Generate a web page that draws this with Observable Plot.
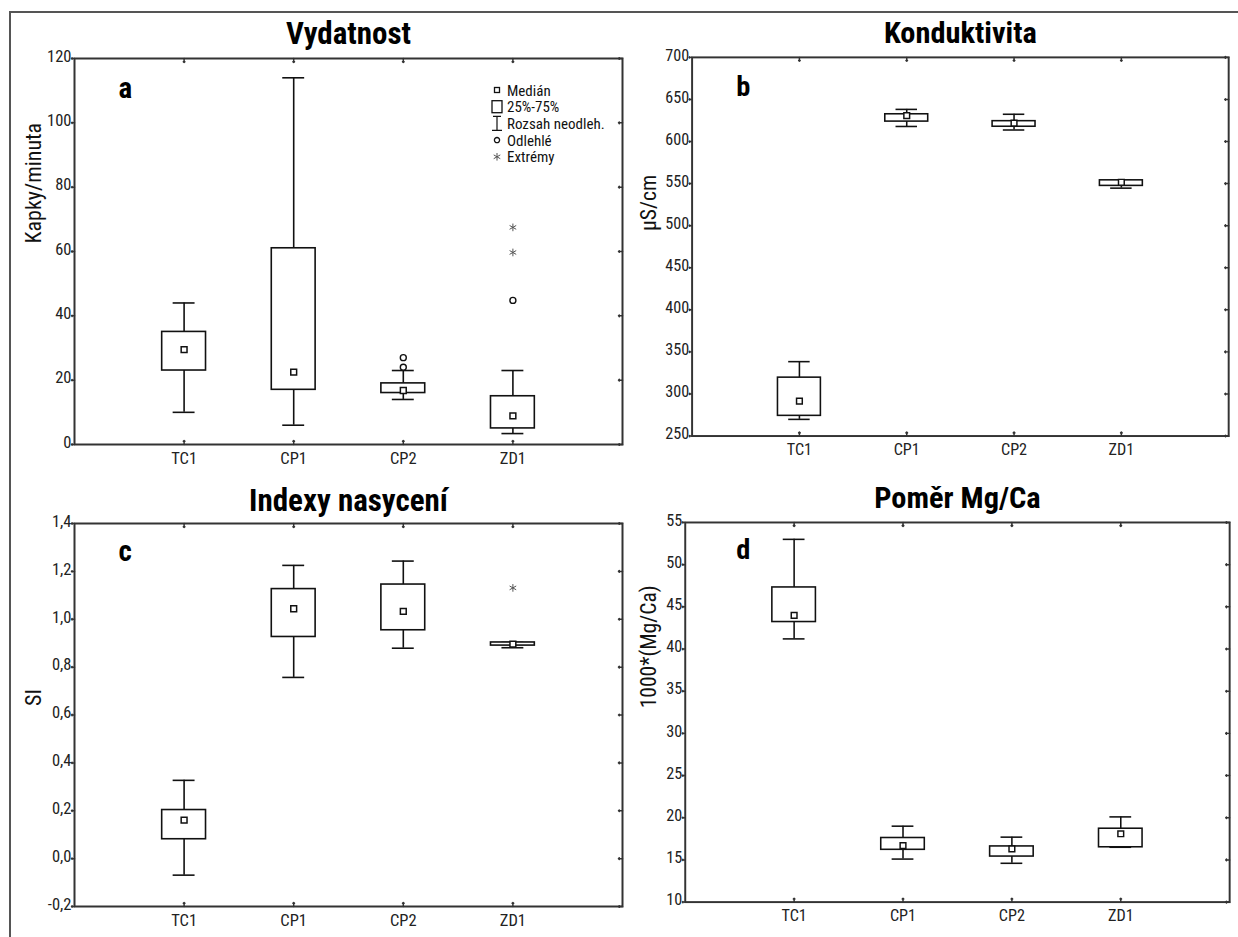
<!DOCTYPE html>
<html>
<head>
<meta charset="utf-8">
<script src="https://cdn.jsdelivr.net/npm/d3@7"></script>
<script src="https://cdn.jsdelivr.net/npm/@observablehq/plot@0.6"></script>
<style>
  html, body { margin: 0; padding: 0; background: #fff; }
  #root { position: relative; width: 1238px; height: 937px; overflow: hidden; background: #fff; }
  .outer { position: absolute; left: 9px; top: 11px; width: 1300px; height: 1000px;
           border-left: 2px solid #555; border-top: 2px solid #555; }
  .panel { position: absolute; }
  .panel svg { overflow: visible; }
  #legend { position: absolute; left: 488px; top: 80px; }
</style>
</head>
<body>
<div id="root">
  <div class="outer"></div>
  <div class="panel" id="pa" style="left:0px;top:0px"></div>
  <div class="panel" id="pb" style="left:620px;top:0px"></div>
  <div class="panel" id="pc" style="left:0px;top:470px"></div>
  <div class="panel" id="pd" style="left:620px;top:470px"></div>
  <div id="legend"></div>
</div>
<script>
const categories = ["TC1", "CP1", "CP2", "ZD1"];

// a) Vydatnost (Kapky/minuta)
const vydWhiskerLow  = [10, 6, 14, 3.4];
const vydQ1          = [23, 17, 16, 5];
const vydMedian      = [29.5, 22.5, 16.8, 8.9];
const vydQ3          = [35, 61, 19, 15];
const vydWhiskerHigh = [44, 114, 23, 23];
const vydOutlierCat  = ["CP2", "CP2", "ZD1"];
const vydOutlierVal  = [27, 24, 44.8];
const vydExtremeCat  = ["ZD1", "ZD1"];
const vydExtremeVal  = [67.5, 59.7];
const vydTicks = [0, 20, 40, 60, 80, 100, 120];

// b) Konduktivita (µS/cm)
const kondWhiskerLow  = [269.8, 617.9, 613.7, 544.6];
const kondQ1          = [274, 623.7, 617.6, 547.3];
const kondMedian      = [291.5, 630.7, 621.9, 551.6];
const kondQ3          = [319.4, 632.4, 624.2, 553.9];
const kondWhiskerHigh = [338.4, 638.2, 632.4, 554];
const kondTicks = [250, 300, 350, 400, 450, 500, 550, 600, 650, 700];

// c) Indexy nasycení (SI)
const siWhiskerLow  = [-0.069, 0.757, 0.879, 0.881];
const siQ1          = [0.081, 0.926, 0.954, 0.890];
const siMedian      = [0.161, 1.044, 1.033, 0.896];
const siQ3          = [0.203, 1.126, 1.145, 0.903];
const siWhiskerHigh = [0.327, 1.225, 1.243, 0.903];
const siExtremeCat  = ["ZD1"];
const siExtremeVal  = [1.131];
const siTicks = [-0.2, 0, 0.2, 0.4, 0.6, 0.8, 1.0, 1.2, 1.4];

// d) Poměr Mg/Ca (1000*(Mg/Ca))
const mgWhiskerLow  = [41.2, 15.1, 14.6, 16.5];
const mgQ1          = [43.2, 16.2, 15.4, 16.5];
const mgMedian      = [44.0, 16.7, 16.3, 18.1];
const mgQ3          = [47.3, 17.6, 16.6, 18.7];
const mgWhiskerHigh = [53.0, 19.0, 17.7, 20.1];
const mgTicks = [10, 15, 20, 25, 30, 35, 40, 45, 50, 55];

const legendLabels = ["Medián", "25%-75%", "Rozsah neodleh.", "Odlehlé", "Extrémy"];

const FONT = "'Liberation Sans Narrow','Arial Narrow','Roboto Condensed','DejaVu Sans Condensed','Liberation Sans',sans-serif";
const INK = "#111";
const FRAME = "#333";
const TICKFS = 16.5;

function panel(cfg) {
  const n = categories.length;
  const pos = c => categories.indexOf(c) + 1;
  const rows = categories.map((c, i) => ({
    c, x: i + 1, wl: cfg.wl[i], q1: cfg.q1[i], med: cfg.med[i], q3: cfg.q3[i], wh: cfg.wh[i]
  }));
  const outl = (cfg.outCat || []).map((c, i) => ({x: pos(c), v: cfg.outVal[i]}));
  const extr = (cfg.extCat || []).map((c, i) => ({x: pos(c), v: cfg.extVal[i]}));
  const [y0, y1] = [cfg.ticks[0], cfg.ticks[cfg.ticks.length - 1]];
  const xt = categories.map((c, i) => i + 1);
  return Plot.plot({
    width: cfg.width, height: cfg.height,
    marginTop: cfg.mt, marginRight: cfg.mr, marginBottom: cfg.mb, marginLeft: cfg.ml,
    style: {fontFamily: FONT, fontSize: TICKFS + "px", color: "#222", background: "transparent", overflow: "visible"},
    x: {domain: [0, n + 1], axis: null},
    y: {domain: [y0, y1], axis: null},
    marks: [
      // whiskers
      Plot.ruleX(rows, {x: "x", y1: "q3", y2: "wh", stroke: INK, strokeWidth: 1.6}),
      Plot.ruleX(rows, {x: "x", y1: "wl", y2: "q1", stroke: INK, strokeWidth: 1.6}),
      Plot.ruleY(rows, {y: "wh", x1: d => d.x - 0.1, x2: d => d.x + 0.1, stroke: INK, strokeWidth: 1.6}),
      Plot.ruleY(rows, {y: "wl", x1: d => d.x - 0.1, x2: d => d.x + 0.1, stroke: INK, strokeWidth: 1.6}),
      // boxes
      Plot.rect(rows, {x1: d => d.x - 0.2, x2: d => d.x + 0.2, y1: "q1", y2: "q3", fill: "white", stroke: INK, strokeWidth: 1.6}),
      // medians
      Plot.dot(rows, {x: "x", y: "med", symbol: "square", r: 3.3, fill: "white", stroke: INK, strokeWidth: 1.5}),
      // outliers & extremes
      Plot.dot(outl, {x: "x", y: "v", symbol: "circle", r: 3, fill: "white", stroke: INK, strokeWidth: 1.4}),
      Plot.dot(extr, {x: "x", y: "v", symbol: "asterisk", r: 3.6, stroke: "#555", strokeWidth: 1}),
      // frame
      Plot.frame({stroke: FRAME, strokeWidth: 2}),
      // inward ticks: bottom / top at categories, right at y ticks
      Plot.vector(xt, {x: d => d, y: () => y0, length: 4, rotate: 0, anchor: "start", stroke: FRAME, strokeWidth: 1.5}),
      Plot.vector(xt, {x: d => d, y: () => y1, length: 4, rotate: 180, anchor: "start", stroke: FRAME, strokeWidth: 1.5}),
      Plot.vector(cfg.ticks, {x: () => n + 1, y: d => d, length: 4, rotate: -90, anchor: "start", stroke: FRAME, strokeWidth: 1.5}),
      // outward left ticks
      Plot.vector(cfg.ticks, {x: () => 0, y: d => d, length: 3, rotate: -90, anchor: "start", stroke: FRAME, strokeWidth: 1.5}),
      // axes labels
      Plot.axisY({ticks: cfg.ticks, tickFormat: cfg.fmt, tickSize: 0, tickPadding: 3, dy: -2, label: null, fontSize: TICKFS, fill: "#222"}),
      Plot.axisX({ticks: xt, tickFormat: i => categories[i - 1], tickSize: 0, tickPadding: 8, label: null, fontSize: TICKFS, fill: "#222"}),
      // title, panel letter, y label
      Plot.text([cfg.title], {frameAnchor: "top", dy: cfg.titleDy, lineAnchor: "bottom", fontSize: 31, fontWeight: "bold", fill: "#000"}),
      Plot.text([cfg.letter], {frameAnchor: "top-left", dx: cfg.letterDx, dy: cfg.letterDy, lineAnchor: "bottom", textAnchor: "start", fontSize: 29, fontWeight: "bold", fill: "#000"}),
      Plot.text([cfg.ylabel], {frameAnchor: "left", dx: cfg.ylDx, dy: cfg.ylDy, rotate: -90, fontSize: 22, fill: "#111"})
    ]
  });
}

const fmtComma = d => d.toFixed(1).replace(".", ",");

document.getElementById("pa").append(panel({
  title: "Vydatnost", letter: "a", ylabel: "Kapky/minuta",
  wl: vydWhiskerLow, q1: vydQ1, med: vydMedian, q3: vydQ3, wh: vydWhiskerHigh,
  outCat: vydOutlierCat, outVal: vydOutlierVal, extCat: vydExtremeCat, extVal: vydExtremeVal,
  ticks: vydTicks, fmt: d => String(d),
  width: 640, height: 470, mt: 58, mr: 18, mb: 26, ml: 74,
  titleDy: -15, letterDx: 44, letterDy: 39, ylDx: -41, ylDy: -8
}));

document.getElementById("pb").append(panel({
  title: "Konduktivita", letter: "b", ylabel: "µS/cm",
  wl: kondWhiskerLow, q1: kondQ1, med: kondMedian, q3: kondQ3, wh: kondWhiskerHigh,
  ticks: kondTicks, fmt: d => String(d),
  width: 630, height: 470, mt: 58, mr: 10, mb: 26, ml: 73,
  titleDy: -15, letterDx: 45, letterDy: 39, ylDx: -44, ylDy: -16
}));

document.getElementById("pc").append(panel({
  title: "Indexy nasycení", letter: "c", ylabel: "SI",
  wl: siWhiskerLow, q1: siQ1, med: siMedian, q3: siQ3, wh: siWhiskerHigh,
  extCat: siExtremeCat, extVal: siExtremeVal,
  ticks: siTicks, fmt: fmtComma,
  width: 640, height: 467, mt: 53, mr: 18, mb: 31, ml: 74,
  titleDy: -13, letterDx: 44, letterDy: 37, ylDx: -41, ylDy: -9
}));

document.getElementById("pd").append(panel({
  title: "Poměr Mg/Ca", letter: "d", ylabel: "1000*(Mg/Ca)",
  wl: mgWhiskerLow, q1: mgQ1, med: mgMedian, q3: mgQ3, wh: mgWhiskerHigh,
  ticks: mgTicks, fmt: d => String(d),
  width: 630, height: 467, mt: 53, mr: 9, mb: 27, ml: 66,
  titleDy: -15, letterDx: 52, letterDy: 37, ylDx: -37, ylDy: -4
}));

// legend (panel a)
(function legend() {
  const rowH = 16.7;
  const svg = d3.select("#legend").append("svg")
    .attr("width", 140).attr("height", 90)
    .style("font-family", FONT).style("font-size", "15px");
  const g = svg.selectAll("g").data(legendLabels).join("g")
    .attr("transform", (d, i) => `translate(9,${10 + i * rowH})`);
  g.append("text").attr("x", 10).attr("y", 5.5).text(d => d).attr("fill", "#111");
  g.each(function(d, i) {
    const s = d3.select(this);
    if (i === 0) s.append("rect").attr("x", -2.5).attr("y", -2.5).attr("width", 5).attr("height", 5)
      .attr("fill", "white").attr("stroke", INK).attr("stroke-width", 1.3);
    if (i === 1) s.append("rect").attr("x", -5).attr("y", -6).attr("width", 10).attr("height", 12)
      .attr("fill", "white").attr("stroke", INK).attr("stroke-width", 1.3);
    if (i === 2) {
      s.append("path").attr("d", "M-4,-7H4M0,-7V7M-5,7H5").attr("stroke", INK).attr("stroke-width", 1.2).attr("fill", "none");
    }
    if (i === 3) s.append("circle").attr("r", 2.6).attr("fill", "white").attr("stroke", INK).attr("stroke-width", 1.3);
    if (i === 4) s.append("path").attr("d", d3.symbol(d3.symbolAsterisk, 40)()).attr("stroke", "#555").attr("stroke-width", 1).attr("fill", "none");
  });
})();
</script>
</body>
</html>
